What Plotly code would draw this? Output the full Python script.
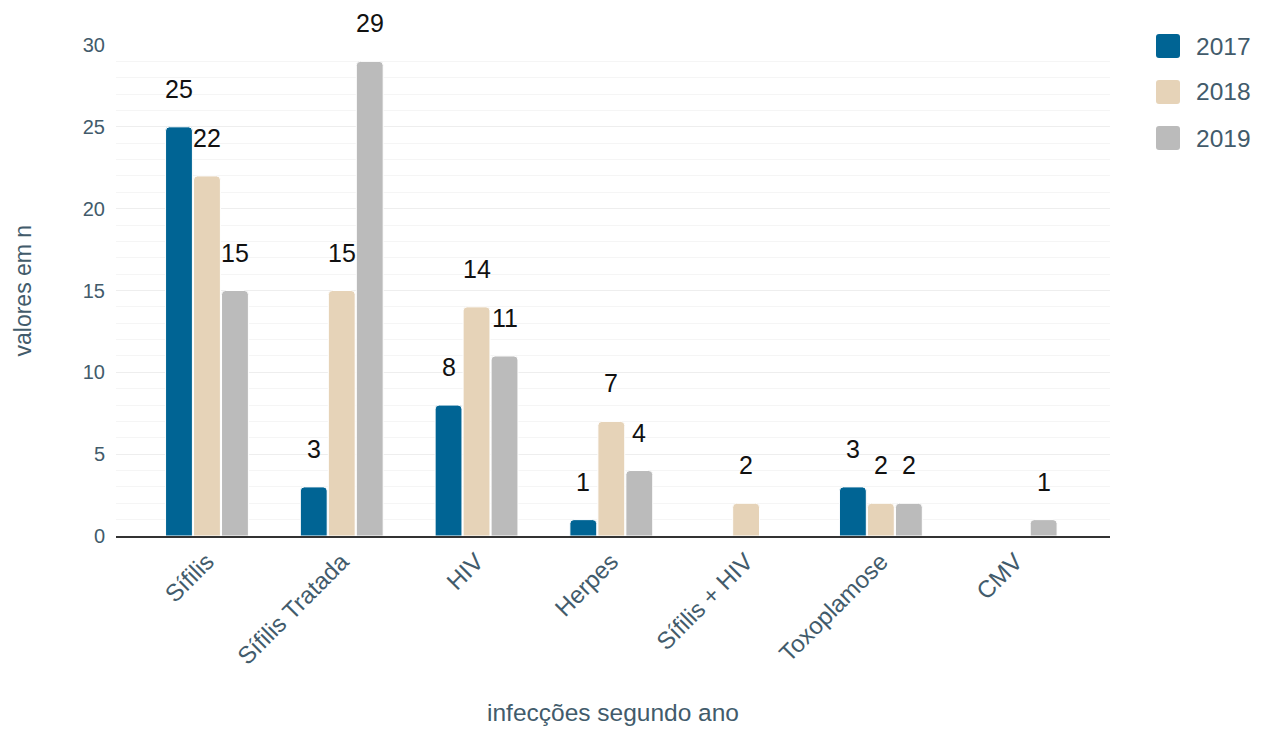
import plotly.graph_objects as go

categories = ["Sífilis", "Sífilis Tratada", "HIV", "Herpes", "Sífilis + HIV", "Toxoplamose", "CMV"]
years = ["2017", "2018", "2019"]
values_2017 = [25, 3, 8, 1, None, 3, None]
values_2018 = [22, 15, 14, 7, 2, 2, None]
values_2019 = [15, 29, 11, 4, None, 2, 1]
series = [values_2017, values_2018, values_2019]
colors = ["#006494", "#e6d3b8", "#bbbbbb"]

x_title = "infecções segundo ano"
y_title = "valores em n"
text_color = "#425b6b"
font_family = "Arial, Liberation Sans, sans-serif"

PL, PT, PW, PH = 116, 45, 994, 491


def px_x(x):
    return (x - PL) / PW


def px_y(y):
    return (PT + PH - y) / PH


fig = go.Figure()
for yr, vals, col in zip(years, series, colors):
    fig.add_trace(go.Bar(
        x=categories, y=vals, name=yr,
        marker=dict(color=col, line=dict(color="white", width=1)),
        showlegend=False,
    ))

# data labels
slot = 28
annotations = []
for i, (vals, yr) in enumerate(zip(series, years)):
    for cat, v in zip(categories, vals):
        if v is None:
            continue
        annotations.append(dict(
            x=cat, y=v, xref="x", yref="y", text=str(v), showarrow=False,
            xshift=(i - 1) * slot, yshift=38, yanchor="middle",
            font=dict(size=25, color="#111111", family=font_family),
        ))

# legend (manual, rounded squares)
shapes = []
r = 3
for i, (yr, col) in enumerate(zip(years, colors)):
    yc = 46 + i * 46
    x0, x1, y0, y1 = 1156, 1180, yc - 12, yc + 12
    path = (
        f"M {px_x(x0 + r)},{px_y(y0)} L {px_x(x1 - r)},{px_y(y0)} "
        f"Q {px_x(x1)},{px_y(y0)} {px_x(x1)},{px_y(y0 + r)} "
        f"L {px_x(x1)},{px_y(y1 - r)} Q {px_x(x1)},{px_y(y1)} {px_x(x1 - r)},{px_y(y1)} "
        f"L {px_x(x0 + r)},{px_y(y1)} Q {px_x(x0)},{px_y(y1)} {px_x(x0)},{px_y(y1 - r)} "
        f"L {px_x(x0)},{px_y(y0 + r)} Q {px_x(x0)},{px_y(y0)} {px_x(x0 + r)},{px_y(y0)} Z"
    )
    shapes.append(dict(
        type="path", xref="paper", yref="paper", path=path,
        fillcolor=col, line=dict(width=0), layer="above",
    ))
    annotations.append(dict(
        xref="paper", yref="paper", x=px_x(1194), y=px_y(yc),
        text=yr, showarrow=False, xanchor="left", yanchor="middle",
        font=dict(size=24.5, color=text_color, family=font_family),
    ))

annotations.append(dict(
    xref="paper", yref="paper", x=0.5, y=px_y(712), text=x_title,
    showarrow=False, xanchor="center", yanchor="middle",
    font=dict(size=24.5, color=text_color, family=font_family),
))
annotations.append(dict(
    xref="paper", yref="paper", x=px_x(22), y=0.5, text=y_title,
    showarrow=False, xanchor="center", yanchor="middle", textangle=-90,
    font=dict(size=23, color=text_color, family=font_family),
))

fig.update_layout(
    width=1266, height=729,
    margin=dict(l=PL, r=1266 - PL - PW, t=PT, b=729 - PT - PH),
    plot_bgcolor="white", paper_bgcolor="white",
    barmode="group", bargap=0.377, bargroupgap=0.04,
    barcornerradius=4,
    annotations=annotations, shapes=shapes,
    font=dict(family=font_family, color=text_color),
    xaxis=dict(
        range=[-0.675, 6.70], tickangle=-45, showgrid=False,
        tickfont=dict(size=24, color=text_color),
        showline=True, linecolor="#333333", linewidth=2,
        ticks="",
    ),
    yaxis=dict(
        range=[0, 30], dtick=5, tick0=0,
        tickfont=dict(size=20, color=text_color),
        gridcolor="#eeeeee", gridwidth=1,
        minor=dict(dtick=1, showgrid=True, gridcolor="#f5f5f5", gridwidth=1),
        zeroline=False, showline=False, ticks="",
        ticklabelstandoff=10,
    ),
)

fig.write_html("out.html")
